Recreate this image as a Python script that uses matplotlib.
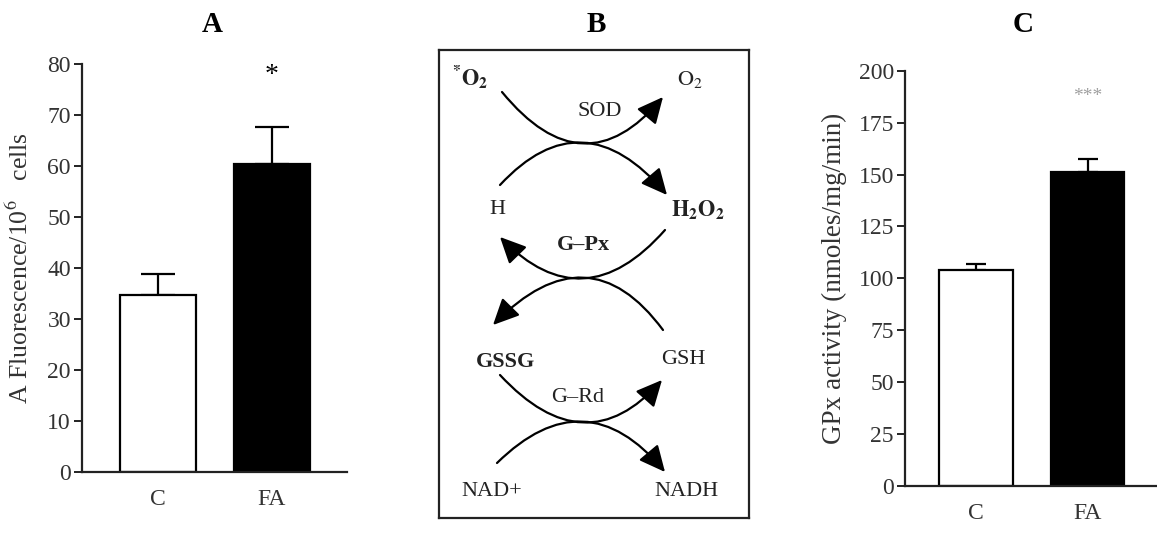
import matplotlib
matplotlib.use("Agg")
import matplotlib.pyplot as plt
from matplotlib.patches import FancyArrowPatch
from matplotlib.path import Path

plt.rcParams["font.family"] = ["Liberation Serif", "DejaVu Serif"]
plt.rcParams["mathtext.fontset"] = "stix"

# data
groups = ["C", "FA"]
fluor_mean = [34.7, 60.3]
fluor_err = [4.1, 7.4]
gpx_mean = [104.0, 151.0]
gpx_err = [3.0, 6.5]
colors = ["white", "black"]

W, H = 1157, 555
fig = plt.figure(figsize=(W / 100, H / 100), dpi=100)


def frac(x0, y0, x1, y1):
    return [x0 / W, 1 - y1 / H, (x1 - x0) / W, (y1 - y0) / H]


def bar_panel(ax, means, errs, caps, width, xlim, ymax, yticks):
    for i, (m, e, c) in enumerate(zip(means, errs, colors)):
        ax.bar(i, m, width=width, color=c, edgecolor="black", linewidth=1.6, zorder=2)
        ax.errorbar(i, m, yerr=[[0], [e]], fmt="none", ecolor="black",
                    elinewidth=1.6, capsize=caps[i], capthick=1.6, zorder=1)
    ax.set_xlim(*xlim)
    ax.set_ylim(0, ymax)
    ax.set_yticks(yticks)
    ax.set_xticks(range(len(groups)))
    ax.set_xticklabels(groups)
    for s in ["top", "right"]:
        ax.spines[s].set_visible(False)
    for s in ["left", "bottom"]:
        ax.spines[s].set_linewidth(1.6)
        ax.spines[s].set_color("#222222")
    ax.tick_params(axis="y", length=6, width=1.4, labelsize=17, pad=2,
                   color="#222222", labelcolor="#333333")
    ax.tick_params(axis="x", length=0, labelsize=17, pad=12, labelcolor="#333333")


# panel A
axa = fig.add_axes(frac(82, 64, 347, 472))
bar_panel(axa, fluor_mean, fluor_err, [12.5, 12.5], 0.67, (-0.67, 1.665), 80,
          range(0, 81, 10))
axa.set_ylabel("A Fluorescence/10$^{6}$   cells", fontsize=18.5, labelpad=10,
               color="#333333")
axa.text(1, 77.8, "*", ha="center", va="center", fontsize=20)
fig.text(212 / W, 1 - 25 / H, "A", ha="center", va="center", fontsize=21, fontweight="bold")

# panel C
axc = fig.add_axes(frac(905, 70.7, 1157, 486))
bar_panel(axc, gpx_mean, gpx_err, [7.5, 7.5], 0.66, (-0.637, 1.623), 200,
          range(0, 201, 25))
axc.set_ylabel("GPx activity (nmoles/mg/min)", fontsize=19.5, labelpad=8,
               color="#333333")
axc.text(1, 187.6, "***", ha="center", va="center", fontsize=14, color="#a0a0a0")
fig.text(1023 / W, 1 - 25 / H, "C", ha="center", va="center", fontsize=21, fontweight="bold")

# panel B: scheme
fig.text(596 / W, 1 - 25 / H, "B", ha="center", va="center", fontsize=21, fontweight="bold")
axb = fig.add_axes(frac(439, 50, 749, 518))
axb.set_xlim(439, 749)
axb.set_ylim(518, 50)
axb.set_xticks([])
axb.set_yticks([])
for s in axb.spines.values():
    s.set_linewidth(1.6)
    s.set_color("#222222")

arcs = [
    ((502, 92), (583, 143), (663, 97)),
    ((500, 185), (583, 143), (667, 195)),
    ((665, 230), (583, 278), (500, 237)),
    ((663, 330), (583, 278), (493, 325)),
    ((500, 375), (583, 422), (662, 380)),
    ((497, 463), (583, 422), (665, 472)),
]
for p0, m, p2 in arcs:
    ctrl = (2 * m[0] - (p0[0] + p2[0]) / 2, 2 * m[1] - (p0[1] + p2[1]) / 2)
    path = Path([p0, ctrl, p2], [Path.MOVETO, Path.CURVE3, Path.CURVE3])
    axb.add_patch(FancyArrowPatch(path=path,
                                  arrowstyle="-|>,head_length=0.8,head_width=0.38",
                                  mutation_scale=20, color="black", linewidth=1.6,
                                  shrinkA=0, shrinkB=0))

labels = [
    (470, 77, r"$\mathbf{{}^{*}O_{2}}$"),
    (690, 80, r"$\mathrm{O_{2}}$"),
    (600, 112, "SOD"),
    (497, 210, "H"),
    (698, 210, r"$\mathbf{H_{2}O_{2}}$"),
    (583, 245, "G–Px"),
    (505, 362, "GSSG"),
    (683, 360, "GSH"),
    (578, 397, "G–Rd"),
    (492, 492, "NAD+"),
    (686, 492, "NADH"),
]
bold = {"G–Px", "GSSG"}
for x, y, t in labels:
    axb.text(x, y, t, ha="center", va="center", fontsize=16, color="#222222",
             fontweight="bold" if t in bold else "normal")

fig.savefig("out.png", dpi=100)
